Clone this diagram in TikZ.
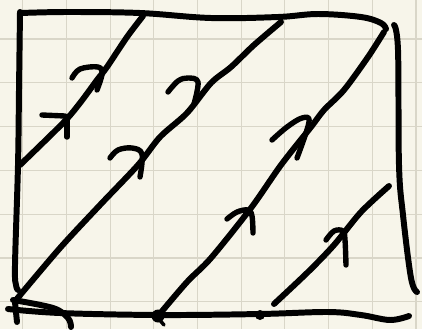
\documentclass[tikz,border=0pt]{standalone}
\usepackage{xcolor}
\usepackage{tikz}
\definecolor{paper}{HTML}{F7F5EA}
\definecolor{gridln}{HTML}{D9D6C8}

\begin{document}
\begin{tikzpicture}[x=0.03cm, y=-0.03cm,
      ink/.style={line width=5.1pt, line cap=round, line join=round, black},
      hook/.style={ink, line width=4.6pt},
      gridline/.style={gridln, line width=1pt}]
      % paper and grid
      \fill[paper] (0,0) rectangle (422,329);
      \useasboundingbox (0,0) rectangle (422,329);
      \foreach \k in {0,...,9} \draw[gridline] ({22.7+43.7*\k},0) -- ({22.7+43.7*\k},329);
      \foreach \k in {0,...,7} \draw[gridline] (0,{-4.8+43.8*\k}) -- (422,{-4.8+43.8*\k});
      % frame
      \draw[ink] plot[smooth, tension=0.6] coordinates {(21,13) (67,12) (140,13) (211,18) (278,17) (318,14) (361,17) (381,23) (386,29)};
      \draw[ink] plot[smooth, tension=0.6] coordinates {(20,12) (19,90) (18,165) (15,265) (16,285) (18,290)};
      \draw[ink] plot[smooth, tension=0.6] coordinates {(394,25) (398,50) (399,165) (403,215) (411,278) (417,292)};
      \draw[ink] plot[smooth, tension=0.6] coordinates {(8,309) (60,313) (160,315) (260,314) (328,312) (361,315) (390,320) (409,316)};
      % corner scribble
      \draw[ink] plot[smooth, tension=0.6] coordinates {(13,300) (53,308) (68,318) (71,327)};
      \draw[ink] (15,302) -- (17,322);
      % diagonals
      \draw[ink] plot[smooth, tension=0.5] coordinates {(143,16) (127,37) (107,67) (97,80) (80,103) (63,123) (20,165)};
      \draw[ink] plot[smooth, tension=0.5] coordinates {(281,22) (254,45) (231,67) (211,83) (187,113) (160,137) (138,165) (100,205) (60,248) (16,300)};
      \draw[ink] plot[smooth, tension=0.5] coordinates {(384,32) (368,57) (344,90) (324,110) (311,127) (281,165) (251,208) (211,258) (187,282) (158,316)};
      \draw[ink] plot[smooth, tension=0.5] coordinates {(389,186) (361,212) (334,245) (308,272) (274,304)};
      % arrowheads
      \draw[hook] plot[smooth, tension=0.6] coordinates {(72,78) (80,69) (98,67) (102,74) (97,90)};
      \draw[hook] (42,115) -- (65,116);
      \draw[hook] (67,117) -- (67,137);
      \draw[hook] plot[smooth, tension=0.6] coordinates {(168,92) (178,81) (188,78) (198,82) (194,104)};
      \draw[hook] plot[smooth, tension=0.6] coordinates {(110,158) (118,150) (132,148) (142,154) (140,177)};
      \draw[hook] plot[smooth, tension=0.6] coordinates {(272,140) (287,127) (302,118) (309,122) (297,158)};
      \draw[hook] plot[smooth, tension=0.6] coordinates {(227,219) (237,212) (248,210) (252,216) (253,233)};
      \draw[hook] plot[smooth, tension=0.6] coordinates {(326,240) (334,231) (343,231) (345,240) (346,265)};
      % dots on the base
      \fill (158,316) circle (6.5);
      \draw[ink, line width=3pt] (158,318) -- (164,325);
      \fill (260,315) circle (5);
\end{tikzpicture}
\end{document}
